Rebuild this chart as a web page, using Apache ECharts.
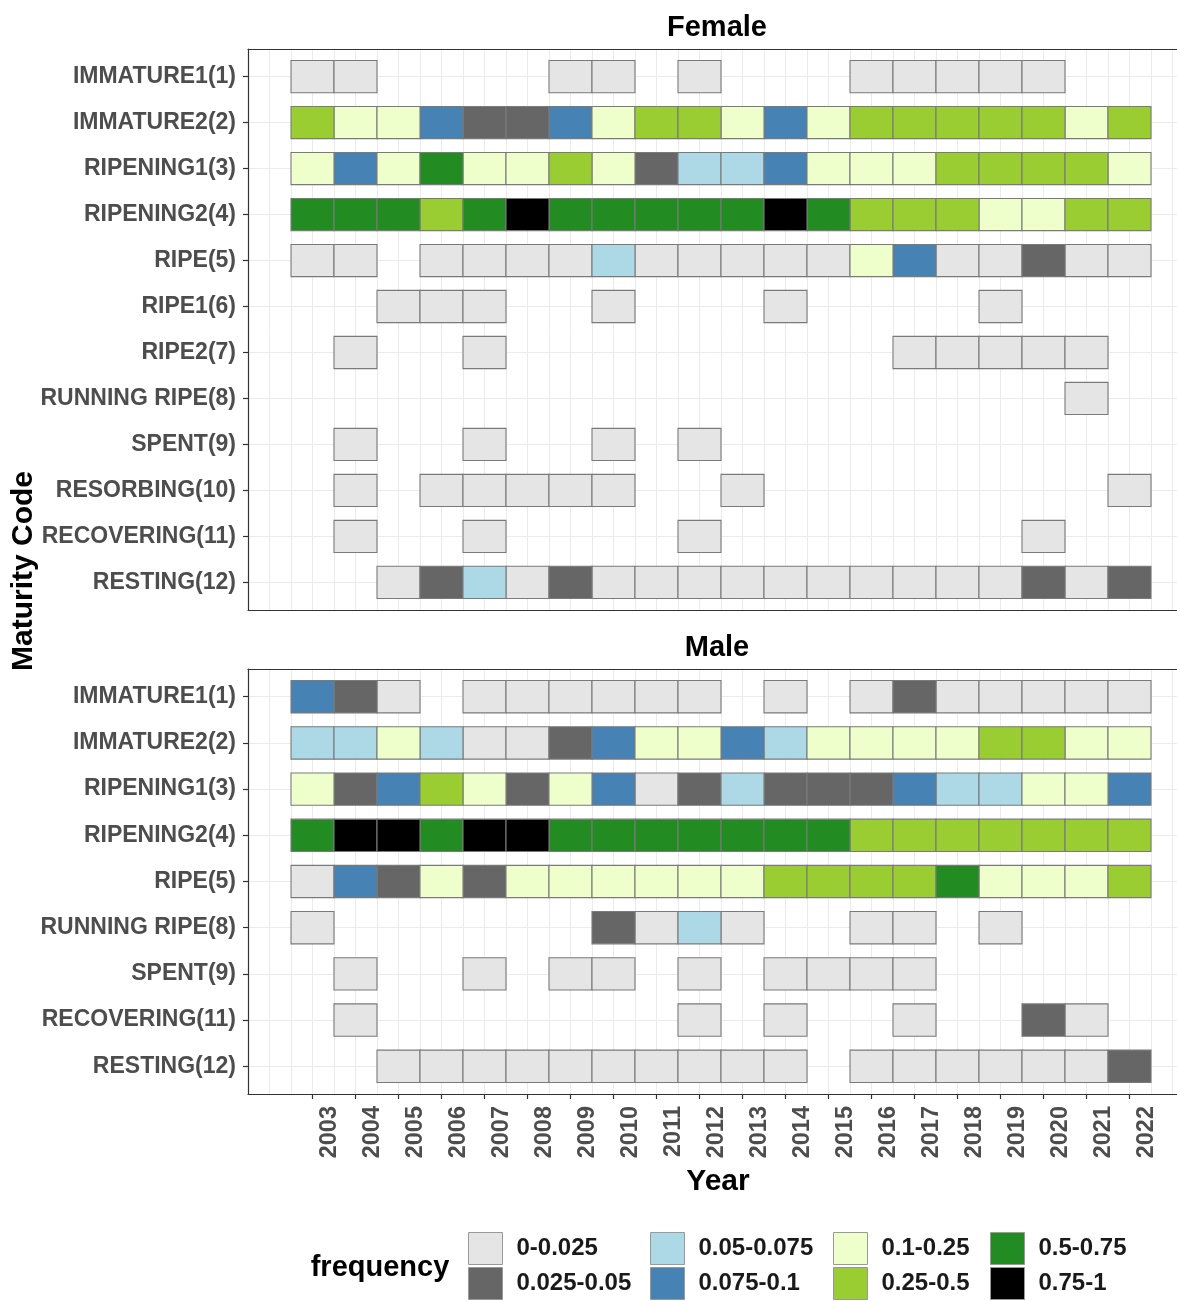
<!DOCTYPE html>
<html><head><meta charset="utf-8">
<script src="https://cdn.jsdelivr.net/npm/echarts@6/dist/echarts.min.js"></script>
<style>html,body{margin:0;padding:0;background:#fff}#c{width:1177px;height:1301px}</style>
</head><body><div id="c"></div>
<script>
const _ = null;
const years = [2003,2004,2005,2006,2007,2008,2009,2010,2011,2012,2013,2014,2015,2016,2017,2018,2019,2020,2021,2022];
const femaleCategories = ['IMMATURE1(1)','IMMATURE2(2)','RIPENING1(3)','RIPENING2(4)','RIPE(5)','RIPE1(6)','RIPE2(7)','RUNNING RIPE(8)','SPENT(9)','RESORBING(10)','RECOVERING(11)','RESTING(12)'];
const maleCategories = ['IMMATURE1(1)','IMMATURE2(2)','RIPENING1(3)','RIPENING2(4)','RIPE(5)','RUNNING RIPE(8)','SPENT(9)','RECOVERING(11)','RESTING(12)'];
const binLabels = ['0-0.025','0.025-0.05','0.05-0.075','0.075-0.1','0.1-0.25','0.25-0.5','0.5-0.75','0.75-1'];
const binColors = ['#E5E5E5','#666666','#ADD8E6','#4682B4','#EEFFCC','#9ACD32','#228B22','#000000'];

// frequency class index (into binLabels) per category row, per year; _ = no observation
const femaleFreqClass = [
  [0,0,_,_,_,_,0,0,_,0,_,_,_,0,0,0,0,0,_,_],
  [5,4,4,3,1,1,3,4,5,5,4,3,4,5,5,5,5,5,4,5],
  [4,3,4,6,4,4,5,4,1,2,2,3,4,4,4,5,5,5,5,4],
  [6,6,6,5,6,7,6,6,6,6,6,7,6,5,5,5,4,4,5,5],
  [0,0,_,0,0,0,0,2,0,0,0,0,0,4,3,0,0,1,0,0],
  [_,_,0,0,0,_,_,0,_,_,_,0,_,_,_,_,0,_,_,_],
  [_,0,_,_,0,_,_,_,_,_,_,_,_,_,0,0,0,0,0,_],
  [_,_,_,_,_,_,_,_,_,_,_,_,_,_,_,_,_,_,0,_],
  [_,0,_,_,0,_,_,0,_,0,_,_,_,_,_,_,_,_,_,_],
  [_,0,_,0,0,0,0,0,_,_,0,_,_,_,_,_,_,_,_,0],
  [_,0,_,_,0,_,_,_,_,0,_,_,_,_,_,_,_,0,_,_],
  [_,_,0,1,2,0,1,0,0,0,0,0,0,0,0,0,0,1,0,1]
];
const maleFreqClass = [
  [3,1,0,_,0,0,0,0,0,0,_,0,_,0,1,0,0,0,0,0],
  [2,2,4,2,0,0,1,3,4,4,3,2,4,4,4,4,5,5,4,4],
  [4,1,3,5,4,1,4,3,0,1,2,1,1,1,3,2,2,4,4,3],
  [6,7,7,6,7,7,6,6,6,6,6,6,6,5,5,5,5,5,5,5],
  [0,3,1,4,1,4,4,4,4,4,4,5,5,5,5,6,4,4,4,5],
  [0,_,_,_,_,_,_,1,0,2,0,_,_,0,0,_,0,_,_,_],
  [_,0,_,_,0,_,0,0,_,0,_,0,0,0,0,_,_,_,_,_],
  [_,0,_,_,_,_,_,_,_,0,_,0,_,_,0,_,_,1,0,_],
  [_,_,0,0,0,0,0,0,0,0,0,0,_,0,0,0,0,0,0,1]
];

const FONT = "'Liberation Sans', Arial, sans-serif";
const chart = echarts.init(document.getElementById('c'));

function cellsFor(grid, bin) {
  const out = [];
  grid.forEach((row, r) => row.forEach((b, c) => { if (b === bin) out.push([years[c], r]); }));
  return out;
}
function renderTile(params, api) {
  const c = api.coord([api.value(0), api.value(1)]);
  const s = api.size([1, 0.7]);
  return {
    type: 'rect',
    shape: { x: c[0] - s[0] / 2, y: c[1] - s[1] / 2, width: s[0], height: s[1] },
    style: { fill: api.visual('color'), stroke: '#7A7A7A', lineWidth: 1.1 }
  };
}

// panel spans 2001.5 .. 2023.5 at 43 px per year; the picture is cut at its right edge
const XMIN = 2001.5, XMAX = 2001.5 + 929 / 43;
const AXIS_LINE = { show: true, onZero: false, lineStyle: { color: '#333333', width: 1.2 } };
const panels = [
  { cats: femaleCategories, data: femaleFreqClass, top: 49, height: 561, labels: false },
  { cats: maleCategories, data: maleFreqClass, top: 669, height: 425, labels: true }
];

const grids = [], xAxes = [], yAxes = [], series = [];
panels.forEach((p, i) => {
  grids.push({ left: 248, right: 0, top: p.top, height: p.height, show: false });
  // gridline axis (major + minor positions), drawn as panel top border
  xAxes.push({ gridIndex: i, type: 'value', min: XMIN, max: XMAX, interval: 0.5, position: 'top',
    axisLine: AXIS_LINE, axisTick: { show: false }, axisLabel: { show: false },
    splitLine: { show: true, lineStyle: { color: '#EBEBEB', width: 1 } } });
  // tick / label axis, panel bottom border
  xAxes.push({ gridIndex: i, type: 'value', min: XMIN, max: XMAX, position: 'bottom',
    axisLine: AXIS_LINE,
    axisTick: { show: p.labels, customValues: years, length: 5, lineStyle: { color: '#333333', width: 1.2 } },
    axisLabel: { show: p.labels, customValues: years, rotate: 90, margin: 12, verticalAlign: 'top', padding: [5, 0, 0, 0],
      fontSize: 23.5, fontWeight: 'bold', color: '#4D4D4D', fontFamily: FONT, formatter: v => String(v) },
    splitLine: { show: false } });
  const idx = p.cats.map((c, k) => k);
  yAxes.push({ gridIndex: i, type: 'value', min: -0.6, max: p.cats.length - 0.4, inverse: true, position: 'left',
    axisLine: AXIS_LINE,
    axisTick: { show: true, customValues: idx, length: 5, lineStyle: { color: '#333333', width: 1.2 } },
    axisLabel: { customValues: idx, margin: 12, fontSize: 23, fontWeight: 'bold', color: '#4D4D4D', fontFamily: FONT, formatter: v => p.cats[Math.round(v)] },
    splitLine: { show: true, lineStyle: { color: '#EBEBEB', width: 1 } } });
  binLabels.forEach((lab, b) => {
    series.push({ type: 'custom', name: lab, coordinateSystem: 'cartesian2d',
      xAxisIndex: i * 2 + 1, yAxisIndex: i, color: binColors[b], itemStyle: { color: binColors[b] },
      renderItem: renderTile, encode: { x: 0, y: 1 }, data: cellsFor(p.data, b), silent: true });
  });
});

const legendLeft = [468, 650, 833, 990];
const legends = legendLeft.map((lx, k) => ({
  data: [binLabels[2 * k], binLabels[2 * k + 1]], orient: 'vertical', left: lx, top: 1232, padding: 0,
  itemWidth: 34, itemHeight: 32, itemGap: 2, icon: 'rect', selectedMode: false,
  itemStyle: { borderColor: '#999999', borderWidth: 1 },
  textStyle: { fontSize: 24, fontWeight: 'bold', color: '#1A1A1A', fontFamily: FONT, padding: [0, 0, 0, 9] }
}));

function txt(text, x, y, size, rot) {
  return { type: 'text', x: x, y: y, rotation: rot || 0,
    style: { text: text, align: 'center', verticalAlign: 'middle', font: 'bold ' + size + 'px ' + FONT, fill: '#000000' } };
}

chart.setOption({
  animation: false,
  backgroundColor: '#ffffff',
  grid: grids, xAxis: xAxes, yAxis: yAxes, series: series, legend: legends,
  graphic: [
    txt('Female', 717, 28, 29),
    txt('Male', 717, 648, 29),
    txt('Year', 718, 1182, 30),
    txt('Maturity Code', 24, 571, 30, Math.PI / 2),
    txt('frequency', 380, 1268, 29)
  ]
});
</script></body></html>
